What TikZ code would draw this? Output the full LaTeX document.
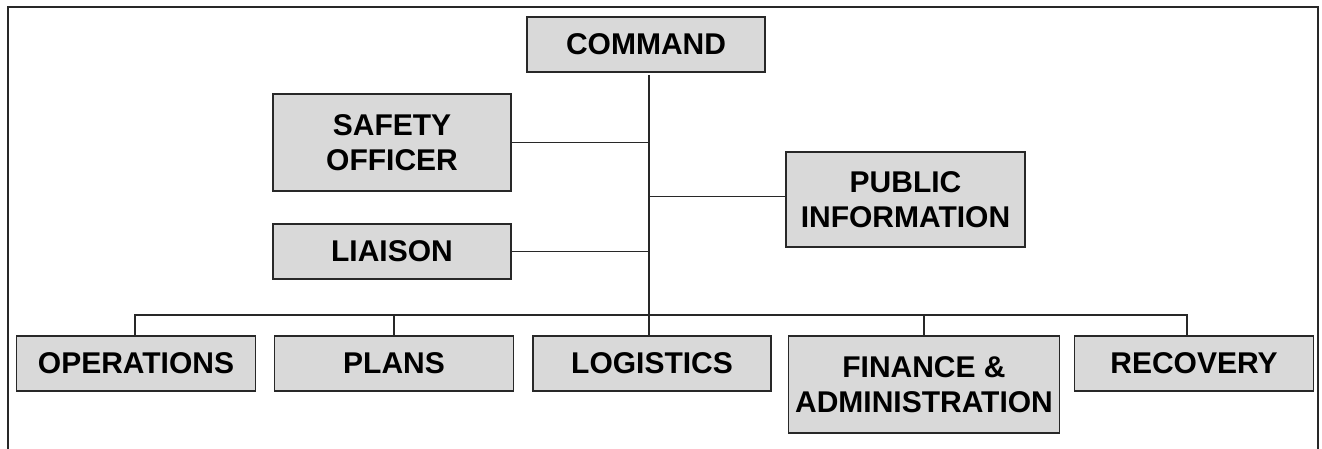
\documentclass[tikz,border=0pt]{standalone}
\usepackage{fontspec}
\setmainfont{Liberation Sans}
\usetikzlibrary{positioning}

\definecolor{boxgray}{RGB}{217,217,217}
\definecolor{linegray}{RGB}{40,40,40}

\tikzset{
	unit/.style={
		draw=linegray,
		fill=boxgray,
		line width=1.6pt,
		inner sep=0pt,
		align=center,
		font=\fontsize{30}{35}\selectfont\bfseries
	},
	link/.style={draw=linegray, line width=1.6pt}
}

\begin{document}
\begin{tikzpicture}[x=1pt, y=-1pt]
					\useasboundingbox (0,0) rectangle (1322,449);
					\draw[link] (8,452) -- (8,7) -- (1318,7) -- (1318,452);

					\node[unit, minimum width=238pt, minimum height=55pt] (command) at (646,44.5) {COMMAND};

					%% staff
					\node[unit, minimum width=238pt, minimum height=97pt] (safety) at (392,142.5) {SAFETY\\OFFICER};
					\node[unit, minimum width=239pt, minimum height=95pt] (public) at (905.5,199.5) {PUBLIC\\INFORMATION};
					\node[unit, minimum width=238pt, minimum height=55pt] (liaison) at (392,251.5) {LIAISON};

					%% sections
					\node[unit, minimum width=239pt, minimum height=55pt] (ops) at (136,363.5) {OPERATIONS};
					\node[unit, minimum width=239pt, minimum height=55pt] (plans) at (394,363.5) {PLANS};
					\node[unit, minimum width=238pt, minimum height=55pt] (logistics) at (652,363.5) {LOGISTICS};
					\node[unit, minimum width=271pt, minimum height=97pt] (finance) at (924,384.5) {FINANCE \&\\ADMINISTRATION};
					\node[unit, minimum width=239pt, minimum height=55pt] (recovery) at (1194,363.5) {RECOVERY};

					\coordinate (trunk) at (649,75);
					\coordinate (bus) at (0,315);

					\draw[link] (trunk) -- (trunk |- logistics.north);
					\draw[link] (safety.east) -- (safety.east -| trunk);
					\draw[link] (liaison.east) -- (liaison.east -| trunk);
					\draw[link] (public.west |- 0,196.7) -- (trunk |- 0,196.7);

					\draw[link] ([xshift=-1pt]ops.north) |- ([xshift=-7pt]recovery.north |- bus) -- ([xshift=-7pt]recovery.north);
					\draw[link] (plans.north) -- (plans.north |- bus);
					\draw[link] (finance.north) -- (finance.north |- bus);
				\end{tikzpicture}
\end{document}
